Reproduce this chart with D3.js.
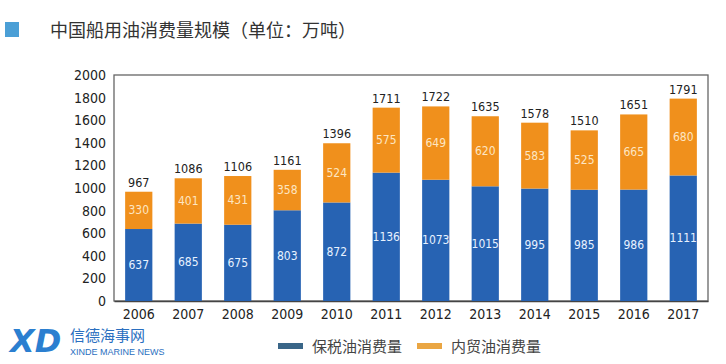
<!DOCTYPE html>
<html><head><meta charset="utf-8">
<script src="https://cdn.jsdelivr.net/npm/d3@7"></script>
<style>body{margin:0;background:#fff}svg{display:block}</style>
</head><body>
<svg id="c" width="726" height="364"></svg>
<script>
const years = ["2006","2007","2008","2009","2010","2011","2012","2013","2014","2015","2016","2017"];
const bonded = [637,685,675,803,872,1136,1073,1015,995,985,986,1111];
const domestic = [330,401,431,358,524,575,649,620,583,525,665,680];
const totals = [967,1086,1106,1161,1396,1711,1722,1635,1578,1510,1651,1791];
const yTicks = [0,200,400,600,800,1000,1200,1400,1600,1800,2000];
const seriesNames = ["保税油消费量","内贸油消费量"];
const title = "中国船用油消费量规模（单位：万吨）";

const colors = ["#2763b3","#f0901c"];
const legendColors = ["#3a6688","#eaa643"];
const svg = d3.select("#c");
const font = "'Noto Sans CJK SC','DejaVu Sans',sans-serif";
const numFont = "'DejaVu Sans Condensed','DejaVu Sans',sans-serif";
const m = {l:114, r:708, t:75, b:301};

const x = d3.scaleBand().domain(years).range([m.l, m.r]).paddingInner(0.45).paddingOuter(0.225);
const y = d3.scaleLinear().domain([0,2000]).range([m.b, m.t]);

// title
svg.append("rect").attr("x",5).attr("y",22).attr("width",14).attr("height",15).attr("fill","#4b9fd6");
svg.append("text").attr("x",50).attr("y",37).attr("font-family",font).attr("font-size",18).attr("fill","#333").text(title);

// frame
svg.append("rect").attr("x",m.l).attr("y",m.t).attr("width",m.r-m.l).attr("height",m.b-m.t)
  .attr("fill","none").attr("stroke","#666").attr("stroke-width",1.3);

// y axis
const ya = svg.append("g").attr("transform",`translate(${m.l},0)`)
  .call(d3.axisLeft(y).tickValues(yTicks).tickFormat(d3.format("d")).tickSize(0).tickPadding(8));
ya.select(".domain").remove();
ya.selectAll("text").attr("font-family",numFont).attr("font-size",14).attr("fill","#222");

// x axis
const xa = svg.append("g").attr("transform",`translate(0,${m.b})`)
  .call(d3.axisBottom(x).tickSize(0).tickPadding(8));
xa.select(".domain").attr("stroke","#444").attr("stroke-width",1.5);
xa.selectAll("text").attr("font-family",numFont).attr("font-size",14).attr("fill","#222");

// bars
const g = svg.append("g");
years.forEach((yr,i)=>{
  const bx = x(yr), bw = x.bandwidth();
  g.append("rect").attr("x",bx).attr("y",y(bonded[i])).attr("width",bw).attr("height",y(0)-y(bonded[i])).attr("fill",colors[0]);
  g.append("rect").attr("x",bx).attr("y",y(bonded[i]+domestic[i])).attr("width",bw).attr("height",y(bonded[i])-y(bonded[i]+domestic[i])).attr("fill",colors[1]);
  const cx = bx+bw/2;
  g.append("text").attr("x",cx).attr("y",y(bonded[i]/2)+4).attr("text-anchor","middle")
    .attr("font-family",numFont).attr("font-size",12).attr("fill","#e8f2ff").text(bonded[i]);
  g.append("text").attr("x",cx).attr("y",y(bonded[i]+domestic[i]/2)+4).attr("text-anchor","middle")
    .attr("font-family",numFont).attr("font-size",12).attr("fill","#fde6c2").text(domestic[i]);
  g.append("text").attr("x",cx).attr("y",y(totals[i])-5).attr("text-anchor","middle")
    .attr("font-family",numFont).attr("font-size",12.5).attr("fill","#222").text(totals[i]);
});

// legend
const lg = svg.append("g");
const lx = [278, 417];
seriesNames.forEach((n,i)=>{
  lg.append("rect").attr("x",lx[i]).attr("y",343).attr("width",25).attr("height",6).attr("fill",legendColors[i]);
  lg.append("text").attr("x",lx[i]+34).attr("y",352).attr("font-family",font).attr("font-size",15).attr("fill","#444").text(n);
});

// watermark
const wm = svg.append("g");
wm.append("text").attr("x",10).attr("y",352).attr("font-family","'DejaVu Sans',sans-serif").attr("font-weight","bold")
  .attr("font-style","italic").attr("font-size",32).attr("fill","#2b7fd0").text("XD");
wm.append("text").attr("x",70).attr("y",341).attr("font-family",font).attr("font-size",15).attr("fill","#2a6fc0").text("信德海事网");
wm.append("text").attr("x",70).attr("y",355).attr("font-family","'Liberation Sans',sans-serif").attr("font-size",9).attr("fill","#2a6fc0").text("XINDE MARINE NEWS");
</script>
</body></html>
